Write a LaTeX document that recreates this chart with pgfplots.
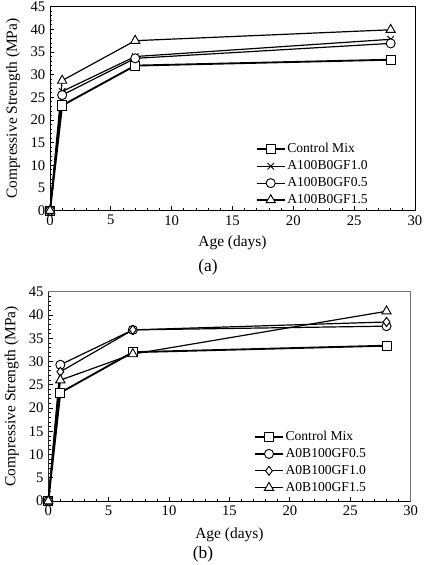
\documentclass[border=0pt]{standalone}
\usepackage{fontspec}
\setmainfont{Liberation Serif}
\usepackage{pgfplots}
\pgfplotsset{compat=1.18}

\pgfplotsset{
  strength/.style={
    scale only axis,
    xmin=0, xmax=30, ymin=0, ymax=45,
    xtick={0,5,...,30}, ytick={0,5,...,45},
    minor tick num=4,
    tick align=inside,
    xtick pos=bottom, ytick pos=left,
    major tick length=3.2pt, minor tick length=1.8pt,
    tick style={black, line width=0.6pt},
    /pgf/number format/assume math mode=true,
    tick label style={font=\fontsize{11}{13}\selectfont},
    label style={font=\fontsize{11.6}{13}\selectfont},
    xlabel={Age (days)}, ylabel={Compressive Strength (MPa)},
    axis line style={line width=0.7pt},
    legend cell align=left,
    legend image code/.code={
      \draw[mark repeat=2,mark phase=2]
        plot coordinates {(0cm,0cm) (0.37cm,0cm) (0.74cm,0cm)};},
    legend style={draw=none, fill=none, font=\fontsize{10.2}{12}\selectfont,
      row sep=2pt, nodes={inner sep=1.2pt}, anchor=north west},
    every axis plot/.append style={black, line width=0.9pt,
      mark options={solid, fill=white, line width=0.7pt}},
  },
  ctrl/.style={line width=1.4pt, mark=square*, mark size=3.4pt},
}

\begin{document}
\begin{tikzpicture}

% Series with GF ratio variations, A100B0 group
\begin{axis}[strength,
  at={(37.5pt,-5pt)}, anchor=north west,
  width=273.75pt, height=153pt,
  xlabel style={at={(axis description cs:0.5,-0.157)}, anchor=center},
  ylabel style={at={(axis description cs:-0.101,0.5)}, anchor=center, rotate=0},
  legend style={at={(axis description cs:0.552,0.352)}},
]
\addplot[ctrl] coordinates {(0,0) (1,23.2) (7,32.0) (28,33.3)};
\addlegendentry{Control Mix}
\addplot[mark=x, mark size=3.4pt] coordinates {(0,0) (1,26.3) (7,34.0) (28,37.8)};
\addlegendentry{A100B0GF1.0}
\addplot[mark=*, mark size=3.4pt] coordinates {(0,0) (1,25.5) (7,33.6) (28,36.9)};
\addlegendentry{A100B0GF0.5}
\addplot[mark=triangle*, mark size=4pt] coordinates {(0,0) (1,28.7) (7,37.5) (28,39.9)};
\addlegendentry{A100B0GF1.5}
\end{axis}
\node[font=\fontsize{13}{15}\selectfont] at (156pt,-200.25pt) {(a)};

% A0B100 group
\begin{axis}[strength,
  at={(36.2pt,-218.8pt)}, anchor=north west,
  width=271.8pt, height=157pt,
  axis line style={black!55},
  xlabel style={at={(axis description cs:0.5,-0.162)}, anchor=center},
  ylabel style={at={(axis description cs:-0.101,0.5)}, anchor=center, rotate=0},
  legend style={at={(axis description cs:0.556,0.356)}},
]
\addplot[ctrl] coordinates {(0,0) (1,23.3) (7,32.0) (28,33.4)};
\addlegendentry{Control Mix}
\addplot[mark=*, mark size=3.4pt] coordinates {(0,0) (1,29.3) (7,36.8) (28,37.6)};
\addlegendentry{A0B100GF0.5}
\addplot[mark=diamond*, mark size=3.4pt] coordinates {(0,0) (1,27.8) (7,36.8) (28,38.5)};
\addlegendentry{A0B100GF1.0}
\addplot[mark=triangle*, mark size=4pt] coordinates {(0,0) (1,26.0) (7,31.6) (28,40.8)};
\addlegendentry{A0B100GF1.5}
\draw[black, line width=0.7pt] (rel axis cs:0,1) -- (rel axis cs:0,0) -- (rel axis cs:1,0);
\end{axis}
\node[font=\fontsize{13}{15}\selectfont] at (152.25pt,-415.5pt) {(b)};

\pgfresetboundingbox
\useasboundingbox (0pt,0pt) rectangle (327pt,-423.75pt);
\end{tikzpicture}
\end{document}
